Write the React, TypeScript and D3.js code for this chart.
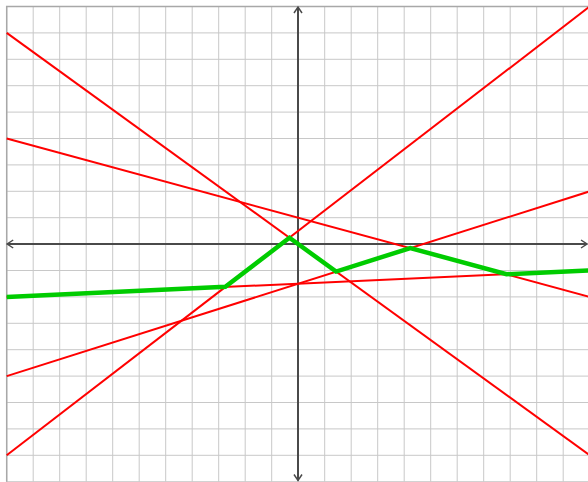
import * as d3 from "d3";
import { useEffect, useRef } from "react";

// x positions where each red line is read at the edges of the grid
const lineX = [-11, 11];
const steepDown = [8, -8];
const steepUp = [-8, 9];
const shallowDown = [4, -2];
const shallowUp = [-5, 2];
const nearlyFlat = [-2, -1];

// thick green polyline vertices
const greenX = [-11, -2.75, -0.33, 1.43, 4.23, 7.86, 11];
const greenY = [-2, -1.62, 0.24, -1.04, -0.15, -1.14, -1];

const xTicks = d3.range(-11, 12);
const yTicks = d3.range(-9, 10);

const App = () => {
  const ref = useRef<SVGSVGElement>(null);

  useEffect(() => {
    const width = 588,
      height = 482;

    const svg = d3.select(ref.current);
    svg.selectAll("*").remove();

    const x = d3.scaleLinear().domain([-11, 11]).range([6.7, 589.7]);
    const y = d3.scaleLinear().domain([9, -9]).range([6.5, 481.7]);

    // grid
    const grid = svg.append("g");
    grid
      .selectAll("line.v")
      .data(xTicks)
      .join("line")
      .attr("x1", (d) => x(d))
      .attr("x2", (d) => x(d))
      .attr("y1", y(9))
      .attr("y2", y(-9))
      .attr("stroke", "#c8c8c8")
      .attr("stroke-width", 1);
    grid
      .selectAll("line.h")
      .data(yTicks)
      .join("line")
      .attr("y1", (d) => y(d))
      .attr("y2", (d) => y(d))
      .attr("x1", x(-11))
      .attr("x2", x(11))
      .attr("stroke", "#c8c8c8")
      .attr("stroke-width", 1);

    // border on top and left
    svg
      .append("path")
      .attr("d", `M${x(-11)},${y(-9)}V${y(9)}H${x(11)}`)
      .attr("fill", "none")
      .attr("stroke", "#a8a8a8")
      .attr("stroke-width", 1.5);

    // axes with open arrowheads at both ends
    const axisColor = "#4a4a4a";
    const ax = svg.append("g").attr("stroke", axisColor).attr("fill", "none").attr("stroke-width", 2);
    const x0 = Math.round(x(0)),
      y0 = Math.round(y(0));
    const left = x(-11) + 0.5,
      right = width - 1,
      top = y(9) + 0.5,
      bottom = height - 1.5;
    ax.append("line").attr("x1", left).attr("x2", right).attr("y1", y0).attr("y2", y0);
    ax.append("line").attr("x1", x0).attr("x2", x0).attr("y1", top).attr("y2", bottom);
    const a = 6,
      b = 4;
    const head = ax.append("g").attr("stroke-width", 1.5);
    head.append("path").attr("d", `M${right - a},${y0 - b}L${right},${y0}L${right - a},${y0 + b}`);
    head.append("path").attr("d", `M${left + a},${y0 - b}L${left},${y0}L${left + a},${y0 + b}`);
    head.append("path").attr("d", `M${x0 - b},${top + a}L${x0},${top}L${x0 + b},${top + a}`);
    head.append("path").attr("d", `M${x0 - b},${bottom - a}L${x0},${bottom}L${x0 + b},${bottom - a}`);

    const line = d3
      .line<[number, number]>()
      .x((d) => x(d[0]))
      .y((d) => y(d[1]));

    // red lines
    const reds = [steepDown, steepUp, shallowDown, shallowUp, nearlyFlat];
    svg
      .append("g")
      .selectAll("path")
      .data(reds)
      .join("path")
      .attr("d", (ys) => line(lineX.map((v, i) => [v, ys[i]] as [number, number])))
      .attr("fill", "none")
      .attr("stroke", "#ff0000")
      .attr("stroke-width", 2);

    // green polyline
    svg
      .append("path")
      .attr("d", line(greenX.map((v, i) => [v, greenY[i]] as [number, number])))
      .attr("fill", "none")
      .attr("stroke", "#00cc00")
      .attr("stroke-width", 4.5)
      .attr("stroke-linejoin", "miter");
  }, []);

  return (
    <div style={{ position: "absolute", left: 0, top: 0 }}>
      <svg width={588} height={482} ref={ref} style={{ display: "block" }} />
    </div>
  );
};

export default App;
